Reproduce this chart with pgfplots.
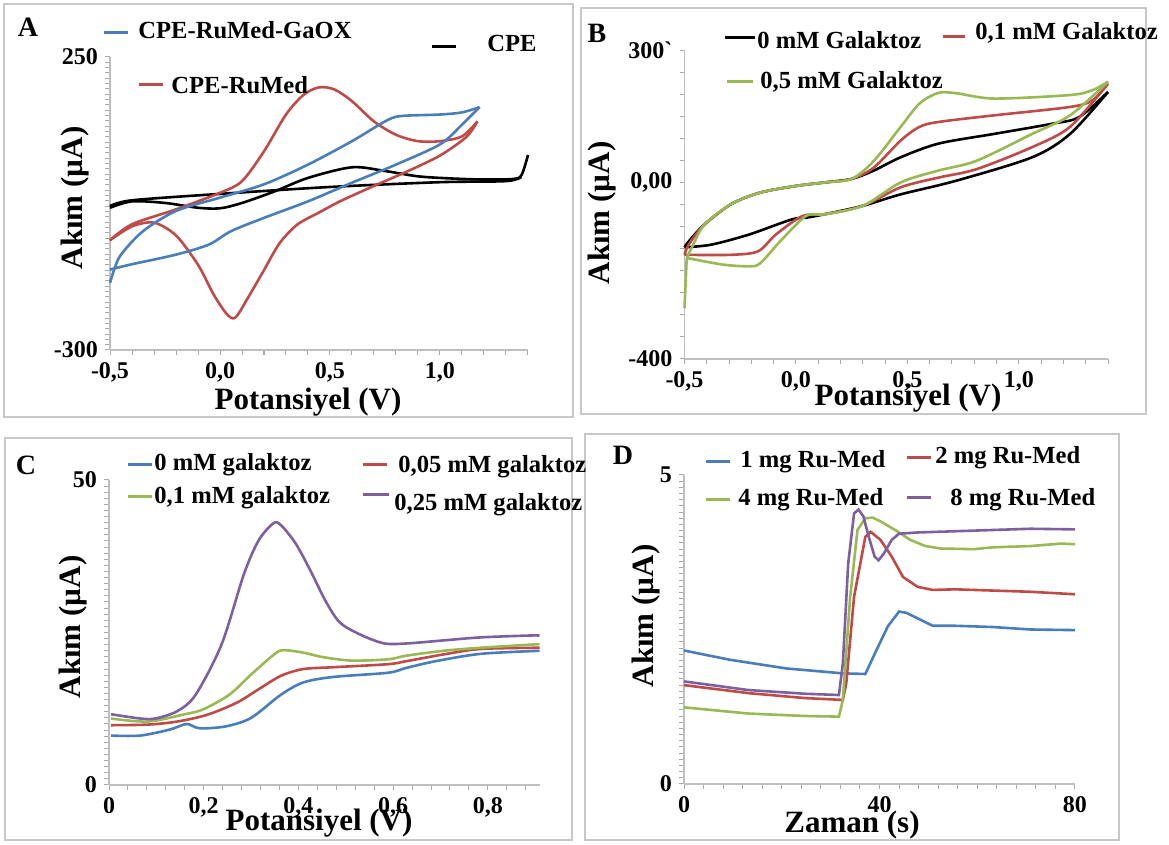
\documentclass[border=0pt]{standalone}
\usepackage{fontspec}
\setmainfont{Liberation Serif}
\usepackage{pgfplots}
\pgfplotsset{compat=1.18}

\definecolor{cblue}{HTML}{4A7EBB}
\definecolor{cred}{HTML}{BE4B48}
\definecolor{cgreen}{HTML}{98B954}
\definecolor{cpurple}{HTML}{7D60A0}
\definecolor{axgray}{HTML}{BFBFBF}
\definecolor{tickgray}{HTML}{A8A8A8}
\definecolor{framegray}{HTML}{C8C8C8}

\newcommand\tf{\fontsize{12}{12}\selectfont\bfseries}
\newcommand\lf{\fontsize{12.3}{12.3}\selectfont\bfseries}
\newcommand\af{\fontsize{15.5}{15.5}\selectfont\bfseries}
\newcommand\pf{\fontsize{14}{14}\selectfont\bfseries}

\pgfplotsset{
  panel/.style={
    scale only axis, anchor=south west, clip=false,
    axis lines=left, axis line style={axgray, line width=0.6pt, -},
    tick style={tickgray, line width=0.5pt},
    major tick length=2.5pt, minor tick length=2.5pt, tick align=outside,
    ticklabel style={font=\tf},
    every axis plot/.append style={line width=1.3pt, no markers}
  }
}

\begin{document}
\begin{tikzpicture}
\useasboundingbox (0,0) rectangle (584.5pt,422.5pt);

% panel frames
\begin{scope}[x=0.5pt, y=-0.5pt, yshift=422.5pt]
\draw[framegray, line width=1pt] (4,4) rectangle (573,417);
\draw[framegray, line width=1pt] (581,8) rectangle (1146,414);
\draw[framegray, line width=1pt] (5,438) rectangle (572,840);
\draw[framegray, line width=1pt] (585,434) rectangle (1119,840);
\end{scope}

% ---------------- A
\begin{axis}[panel, at={(55pt,247.5pt)}, width=209pt, height=146.5pt,
  xmin=-0.5, xmax=1.4, ymin=-300, ymax=250,
  xtick={-0.5,0,0.5,1}, xticklabels={{-0,5},{0,0},{0,5},{1,0}},
  minor xtick={-0.4,-0.3,...,1.35},
  ytick={-300,250}, yticklabels={-300,250},
  minor ytick={-290,-280,...,240}]
\addplot[black, smooth] coordinates {(-0.5,-33) (-0.4,-21) (-0.25,-24) (-0.1,-33) (0,-34) (0.1,-24) (0.25,-2) (0.4,23) (0.6,43) (0.75,36) (0.9,26) (1.05,22) (1.2,20) (1.33,21) (1.37,28) (1.4,66)};
\addplot[black, smooth] coordinates {(1.37,25) (1.3,17) (1.0,15) (0.5,6) (0,-7) (-0.4,-19) (-0.5,-30)};
\addplot[cred, smooth] coordinates {(-0.5,-94) (-0.4,-64) (-0.2,-36) (0,-5) (0.1,17) (0.2,73) (0.3,142) (0.38,179) (0.45,193) (0.52,189) (0.6,167) (0.7,129) (0.8,104) (0.9,92) (1.0,92) (1.1,101) (1.17,129)};
\addplot[cred, smooth] coordinates {(1.17,129) (1.12,100) (1.0,65) (0.85,35) (0.7,8) (0.55,-20) (0.45,-42) (0.35,-65) (0.27,-100) (0.2,-150) (0.13,-200) (0.07,-239) (0.03,-232) (-0.03,-195) (-0.1,-140) (-0.2,-85) (-0.3,-61) (-0.4,-68) (-0.5,-94)};
\addplot[cblue, smooth] coordinates {(-0.5,-174) (-0.48,-148) (-0.45,-121) (-0.35,-77) (-0.2,-39) (0,-14) (0.2,11) (0.4,48) (0.6,92) (0.75,129) (0.82,139) (1.0,142) (1.1,146) (1.18,156)};
\addplot[cblue, smooth] coordinates {(1.18,156) (1.1,123) (1.0,86) (0.8,48) (0.6,14) (0.4,-21) (0.2,-52) (0.05,-77) (-0.05,-102) (-0.2,-121) (-0.4,-139) (-0.5,-149)};
\end{axis}

% ---------------- B
\begin{axis}[panel, at={(342.25pt,243pt)}, width=211.75pt, height=154.5pt,
  xmin=-0.5, xmax=1.4, ymin=-400, ymax=300,
  xtick={-0.5,0,0.5,1}, xticklabels={{-0,5},{0,0},{0,5},{1,0}},
  minor xtick={-0.4,-0.3,...,1.35},
  ytick={-400,0,300}, yticklabels={-400,{0,00},{300ˋ}},
  minor ytick={-350,-300,...,250}]
\addplot[black, smooth] coordinates {(-0.5,-147) (-0.48,-133) (-0.41,-95) (-0.29,-49) (-0.16,-23) (0,-8) (0.13,0) (0.25,8) (0.35,27) (0.47,57) (0.64,88) (0.89,110) (1.15,133) (1.27,148) (1.4,205)};
\addplot[black, smooth] coordinates {(1.4,205) (1.23,110) (1.06,57) (0.72,4) (0.47,-27) (0.30,-53) (0.13,-72) (0.045,-80) (-0.02,-84) (-0.21,-118) (-0.38,-141) (-0.5,-147)};
\addplot[cred, smooth] coordinates {(-0.5,-164) (-0.48,-140) (-0.41,-95) (-0.29,-49) (-0.16,-23) (0,-8) (0.13,0) (0.25,8) (0.35,34) (0.47,95) (0.555,126) (0.64,137) (0.89,152) (1.23,171) (1.33,186) (1.4,224)};
\addplot[cred, smooth] coordinates {(1.4,224) (1.23,126) (1.06,80) (0.81,30) (0.64,11) (0.47,-11) (0.30,-53) (0.13,-72) (0.03,-76) (-0.09,-118) (-0.17,-156) (-0.29,-164) (-0.5,-164)};
\addplot[cgreen] coordinates {(-0.5,-285) (-0.49,-171)};
\addplot[cgreen, smooth] coordinates {(-0.49,-171) (-0.46,-140) (-0.41,-95) (-0.29,-49) (-0.16,-23) (0,-8) (0.13,0) (0.25,8) (0.35,49) (0.47,126) (0.555,179) (0.64,203) (0.72,202) (0.89,190) (1.23,198) (1.33,209) (1.4,228)};
\addplot[cgreen, smooth] coordinates {(1.4,228) (1.23,152) (1.06,110) (0.81,49) (0.64,27) (0.47,0) (0.30,-53) (0.13,-72) (0.045,-76) (-0.07,-133) (-0.16,-183) (-0.21,-190) (-0.33,-186) (-0.49,-171)};
\end{axis}

% ---------------- C
\begin{axis}[panel, at={(54.5pt,30pt)}, width=215.5pt, height=152.5pt,
  xmin=0, xmax=0.91, ymin=0, ymax=50,
  xtick={0,0.2,0.4,0.6,0.8}, xticklabels={0,{0,2},{0,4},{0,6},{0,8}},
  minor xtick={0.04,0.08,...,0.9},
  ytick={0,50}, yticklabels={0,50},
  minor ytick={1,2,...,49}]
\addplot[cblue, smooth] coordinates {(0.004,8.1) (0.066,8.1) (0.129,9.1) (0.164,10.0) (0.191,9.3) (0.246,9.6) (0.30,11.0) (0.363,14.8) (0.41,16.8) (0.472,17.7) (0.589,18.4) (0.628,19.2) (0.69,20.3) (0.785,21.5) (0.909,22.0)};
\addplot[cred, smooth] coordinates {(0.004,9.8) (0.082,9.9) (0.144,10.4) (0.207,11.5) (0.27,13.5) (0.316,15.7) (0.363,17.9) (0.41,19.0) (0.472,19.3) (0.589,19.8) (0.628,20.3) (0.706,21.4) (0.785,22.3) (0.909,22.5)};
\addplot[cgreen, smooth] coordinates {(0.004,10.9) (0.082,10.4) (0.16,11.6) (0.199,12.4) (0.254,14.8) (0.30,18.1) (0.347,21.3) (0.367,22.1) (0.41,21.7) (0.449,21.0) (0.511,20.4) (0.589,20.6) (0.628,21.2) (0.706,22.0) (0.785,22.5) (0.909,23.1)};
\addplot[cpurple, smooth] coordinates {(0.004,11.6) (0.066,10.9) (0.098,10.9) (0.144,12.1) (0.183,14.8) (0.238,23.1) (0.285,34.6) (0.316,40.1) (0.347,42.9) (0.363,42.6) (0.394,39.6) (0.425,35.2) (0.457,30.2) (0.488,26.6) (0.535,24.5) (0.582,23.2) (0.628,23.2) (0.706,23.7) (0.785,24.2) (0.886,24.5) (0.909,24.5)};
\end{axis}

% ---------------- D
\begin{axis}[panel, at={(342pt,30.5pt)}, width=195.5pt, height=154.5pt,
  xmin=0, xmax=80, ymin=0, ymax=5,
  xtick={0,40,80}, xticklabels={0,40,80},
  minor xtick={4,8,...,76},
  ytick={0,5}, yticklabels={0,5},
  minor ytick={0.1,0.2,...,4.95}]
\addplot[cblue] coordinates {(0,2.16) (9.4,2.01) (20.9,1.87) (32.5,1.79) (37.1,1.78) (39.4,2.17) (41.7,2.55) (44.0,2.79) (45.5,2.77) (47.8,2.68) (50.9,2.56) (55.5,2.56) (63.2,2.54) (70.9,2.50) (80,2.49)};
\addplot[cred] coordinates {(0,1.60) (13.2,1.47) (24.8,1.39) (32.5,1.36) (33.2,1.63) (34.8,3.03) (37.1,4.00) (38.2,4.08) (40.2,3.95) (42.5,3.68) (44.8,3.35) (47.8,3.19) (50.9,3.14) (55.5,3.15) (63.2,3.13) (70.9,3.11) (80,3.07)};
\addplot[cgreen] coordinates {(0,1.24) (13.2,1.14) (24.8,1.10) (31.7,1.09) (32.5,1.36) (34.0,3.03) (35.5,4.11) (37.1,4.30) (38.6,4.31) (40.2,4.25) (43.2,4.11) (46.3,3.95) (49.4,3.85) (52.5,3.81) (59.4,3.80) (63.2,3.83) (70.9,3.85) (77.1,3.89) (80,3.88)};
\addplot[cpurple] coordinates {(0,1.66) (13.2,1.52) (24.8,1.46) (31.7,1.44) (32.5,1.95) (33.6,3.57) (34.8,4.38) (35.7,4.44) (36.7,4.33) (37.8,4.00) (39.0,3.68) (39.8,3.62) (40.9,3.73) (42.5,3.95) (44.0,4.05) (47.8,4.07) (55.5,4.09) (63.2,4.11) (70.9,4.13) (80,4.12)};
\end{axis}

% texts, legends
\begin{scope}[x=0.5pt, y=-0.5pt, yshift=422.5pt]
% A
\node at (28,27) {\pf A};
\draw[cblue, line width=1.5pt] (104,33) -- (128,33);
\node[anchor=west, inner sep=0] at (138,30) {\lf CPE-RuMed-GaOX};
\draw[cred, line width=1.5pt] (139,85) -- (163,85);
\node[anchor=west, inner sep=0] at (171,85) {\lf CPE-RuMed};
\draw[black, line width=1.5pt] (432,47) -- (456,47);
\node[anchor=west, inner sep=0] at (487,43) {\lf CPE};
\node at (308,402) {\af Potansiyel (V)};
\node[rotate=90] at (75,198) {\af Akım (µA)};
% B
\node at (597,33) {\pf B};
\draw[black, line width=1.5pt] (725,38) -- (755,38);
\node[anchor=west, inner sep=0] at (757,40) {\lf 0 mM Galaktoz};
\draw[cred, line width=1.5pt] (943,37) -- (965,37);
\node[anchor=west, inner sep=0] at (975,33) {\lf 0,1 mM Galaktoz};
\draw[cgreen, line width=1.5pt] (727,82) -- (753,82);
\node[anchor=west, inner sep=0] at (760,82) {\lf 0,5 mM Galaktoz};
\node at (908,398) {\af Potansiyel (V)};
\node[rotate=90] at (602,213) {\af Akım (µA)};
% C
\node at (26,465) {\pf C};
\draw[cblue, line width=1.5pt] (128,465) -- (152,465);
\node[anchor=west, inner sep=0] at (154,465) {\lf 0 mM galaktoz};
\draw[cred, line width=1.5pt] (363,465) -- (387,465);
\node[anchor=west, inner sep=0] at (398,467) {\lf 0,05 mM galaktoz};
\draw[cgreen, line width=1.5pt] (128,497) -- (152,497);
\node[anchor=west, inner sep=0] at (154,498) {\lf 0,1 mM galaktoz};
\draw[cpurple, line width=1.5pt] (363,495) -- (389,495);
\node[anchor=west, inner sep=0] at (394,505) {\lf 0,25 mM galaktoz};
\node at (319,823) {\af Potansiyel (V)};
\node[rotate=90] at (73,627) {\af Akım (µA)};
% D
\node at (623,455) {\pf D};
\draw[cblue, line width=1.5pt] (706,462) -- (730,462);
\node[anchor=west, inner sep=0] at (740,462) {\lf 1 mg Ru-Med};
\draw[cred, line width=1.5pt] (907,458) -- (931,458);
\node[anchor=west, inner sep=0] at (935,458) {\lf 2 mg Ru-Med};
\draw[cgreen, line width=1.5pt] (706,500) -- (730,500);
\node[anchor=west, inner sep=0] at (738,500) {\lf 4 mg Ru-Med};
\draw[cpurple, line width=1.5pt] (907,498) -- (931,498);
\node[anchor=west, inner sep=0] at (950,500) {\lf 8 mg Ru-Med};
\node at (852,825) {\af Zaman (s)};
\node[rotate=90] at (646,616) {\af Akım (µA)};
\end{scope}
\end{tikzpicture}
\end{document}
